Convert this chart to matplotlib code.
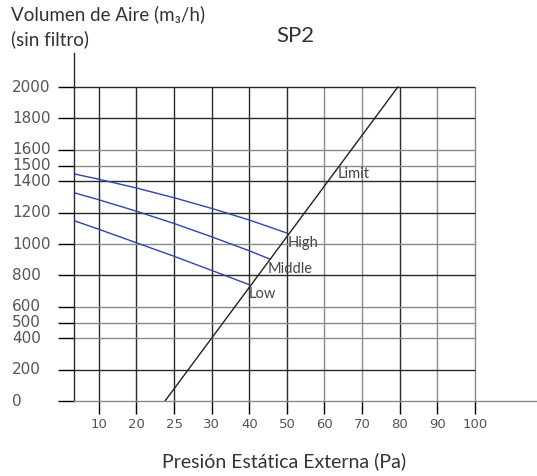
import numpy as np
import matplotlib
matplotlib.use("Agg")
import matplotlib.pyplot as plt

# ==========================================================
# SP2 - air volume vs external static pressure
# x axis is drawn with equally spaced ticks (note the odd 25)
# ==========================================================

x_ticks = [10, 20, 25, 30, 40, 50, 60, 70, 80, 90, 100]
y_ticks = [0, 200, 400, 500, 600, 800, 1000, 1200, 1400, 1500, 1600, 1800, 2000]

# curves (Pa, m3/h)
high_pa = [3.4, 10, 20, 25, 30, 40, 50]
high_q = [1447, 1413, 1357, 1295, 1227, 1153, 1070]

middle_pa = [3.4, 10, 20, 25, 30, 40, 45.5]
middle_q = [1327, 1282, 1209, 1131, 1046, 957, 904]

low_pa = [3.4, 10, 20, 25, 30, 40]
low_q = [1149, 1094, 1008, 922, 832, 741]

limit_pa = [23.8, 79.5]
limit_q = [0, 2000]

# gridline shades as in the scanned chart
dark = "#2a2a2a"
light = "#8a8a8a"
x_grid_col = [dark, dark, dark, dark, dark, dark, light, light, dark, light, light]
y_grid_col = [light, dark, light, light, light, dark, light, dark, dark, light, light, dark, dark]

# ==========================================================
# x scale: tick values placed at equal steps
# ==========================================================
scale_vals = np.array([0] + x_ticks + [200])
scale_pos = np.arange(len(scale_vals), dtype=float)
scale_pos[-1] = 11 + 10


def forward(v):
    return np.interp(v, scale_vals, scale_pos)


def inverse(p):
    return np.interp(p, scale_pos, scale_vals)


fig = plt.figure(figsize=(5.37, 4.76), dpi=100)
ax = fig.add_axes([74 / 537, 1 - 401 / 476, 463 / 537, 348 / 476])
ax.set_xscale("function", functions=(forward, inverse))
ax.set_xlim(3.4, 116.5)
ax.set_ylim(0, 2217)

# grid
for v, c in zip(x_ticks, x_grid_col):
    ax.vlines(v, 0, 2000, color=c, lw=1)
for v, c in zip(y_ticks[1:], y_grid_col[1:]):
    ax.hlines(v, 3.4, 100, color=c, lw=1)

# curves
ax.plot(high_pa, high_q, color="#3344a8", lw=1)
ax.plot(middle_pa, middle_q, color="#3344a8", lw=1)
ax.plot(low_pa, low_q, color="#3344a8", lw=1)
ax.plot(limit_pa, limit_q, color="#222222", lw=1)

ann = dict(fontsize=10.5, color="#444444", family="Lato", ha="left", va="baseline")
ax.text(63.6, 1421, "Limit", **ann)
ax.text(50.3, 981, "High", **ann)
ax.text(44.9, 815, "Middle", **ann)
ax.text(39.9, 655, "Low", **ann)

# spines
for s in ["top", "right"]:
    ax.spines[s].set_visible(False)
ax.spines["left"].set_color(dark)
ax.spines["bottom"].set_color(light)
ax.spines["left"].set_linewidth(1)
ax.spines["bottom"].set_linewidth(1)

# ticks
ax.set_xticks(x_ticks)
ax.set_xticklabels([str(v) for v in x_ticks])
ax.xaxis.set_minor_locator(matplotlib.ticker.NullLocator())
ax.tick_params(axis="x", direction="out", length=9.4, width=1, pad=3,
               labelsize=9.5, labelcolor="#555555")
for t, c in zip(ax.xaxis.get_major_ticks(), x_grid_col):
    t.tick1line.set_color(c)

ax.set_yticks(y_ticks)
ax.set_yticklabels([])
ax.tick_params(axis="y", direction="out", length=11.5, width=1)
for t, c in zip(ax.yaxis.get_major_ticks(), y_grid_col):
    t.tick1line.set_color(c)
for v in y_ticks:
    ax.text((12 - 74) / 463, v, str(v), transform=ax.get_yaxis_transform(),
            ha="left", va="center", fontsize=11, color="#555555")

# titles
fig.text(11 / 537, 1 - 20 / 476, "Volumen de Aire (m\u2083/h)", family=["Lato", "DejaVu Sans"],
         fontsize=13.5, color="#333333", ha="left", va="baseline")
fig.text(11 / 537, 1 - 45 / 476, "(sin filtro)", family="Lato",
         fontsize=13.5, color="#333333", ha="left", va="baseline")
fig.text(295 / 537, 1 - 42 / 476, "SP2", family="Lato",
         fontsize=16, color="#333333", ha="center", va="baseline")
fig.text(284 / 537, 1 - 467 / 476, "Presión Estática Externa (Pa)", family="Lato",
         fontsize=14, color="#333333", ha="center", va="baseline")

fig.savefig("out.png", dpi=100)
